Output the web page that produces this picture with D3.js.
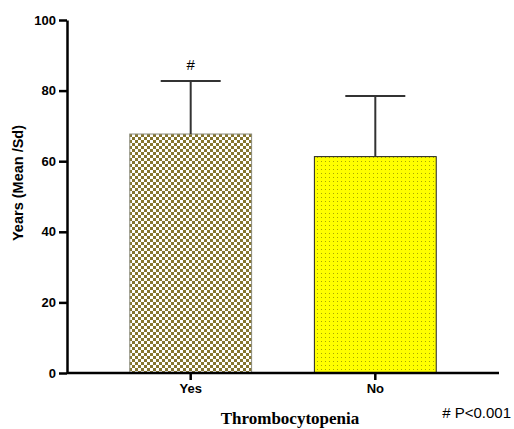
<!DOCTYPE html>
<html>
<head>
<meta charset="utf-8">
<script src="https://cdn.jsdelivr.net/npm/d3@7"></script>
<style>
  body { margin: 0; background: #fff; }
  svg { display: block; }
</style>
</head>
<body>
<svg id="chart" width="514" height="429"></svg>
<script>
var categories = ["Yes", "No"];
var means = [67.7, 61.3];
var sds = [15.0, 17.2];
var marks = ["#", ""];
var yTicks = [0, 20, 40, 60, 80, 100];

var svg = d3.select("#chart"),
    margin = {top: 20, left: 67, bottom: 56, right: 15},
    width = 514,
    height = 429;

var defs = svg.append("defs");

// checkerboard for "Yes"
var checker = defs.append("pattern")
    .attr("id", "checker")
    .attr("patternUnits", "userSpaceOnUse")
    .attr("width", 6).attr("height", 6)
    .attr("x", 129).attr("y", 134);
checker.append("rect").attr("width", 6).attr("height", 6).attr("fill", "#fff");
checker.append("rect").attr("width", 3).attr("height", 3).attr("fill", "#85752f");
checker.append("rect").attr("x", 3).attr("y", 3).attr("width", 3).attr("height", 3).attr("fill", "#85752f");

// dotted yellow for "No"
var dots = defs.append("pattern")
    .attr("id", "dots")
    .attr("patternUnits", "userSpaceOnUse")
    .attr("width", 4).attr("height", 4);
dots.append("rect").attr("width", 4).attr("height", 4).attr("fill", "#ffff00");
dots.append("rect").attr("x", 1).attr("y", 1).attr("width", 1).attr("height", 1).attr("fill", "#a8a800");

var fills = ["url(#checker)", "url(#dots)"];

var xScale = d3.scaleBand()
    .domain(categories)
    .range([margin.left, 499])
    .paddingInner(0.34)
    .paddingOuter(0.34);

var yScale = d3.scaleLinear()
    .domain([0, 100])
    .range([height - margin.bottom, margin.top]);

// bars
svg.selectAll("rect.bar")
    .data(categories)
    .enter().append("rect")
    .attr("class", "bar")
    .attr("x", d => xScale(d))
    .attr("width", xScale.bandwidth())
    .attr("y", (d, i) => yScale(means[i]))
    .attr("height", (d, i) => yScale(0) - yScale(means[i]))
    .attr("fill", (d, i) => fills[i])
    .attr("stroke", (d, i) => i == 0 ? "#8a8a7a" : "#222")
    .attr("stroke-width", 1);

// error bars (upper only)
var err = svg.selectAll("g.err")
    .data(categories)
    .enter().append("g")
    .attr("class", "err");

err.append("line")
    .attr("x1", d => xScale(d) + xScale.bandwidth() / 2)
    .attr("x2", d => xScale(d) + xScale.bandwidth() / 2)
    .attr("y1", (d, i) => yScale(means[i]))
    .attr("y2", (d, i) => yScale(means[i] + sds[i]))
    .attr("stroke", "#333")
    .attr("stroke-width", 2);

err.append("line")
    .attr("x1", d => xScale(d) + xScale.bandwidth() / 2 - 30)
    .attr("x2", d => xScale(d) + xScale.bandwidth() / 2 + 30)
    .attr("y1", (d, i) => yScale(means[i] + sds[i]))
    .attr("y2", (d, i) => yScale(means[i] + sds[i]))
    .attr("stroke", "#333")
    .attr("stroke-width", 2);

err.append("text")
    .attr("x", d => xScale(d) + xScale.bandwidth() / 2)
    .attr("y", (d, i) => yScale(means[i] + sds[i]) - 11)
    .attr("text-anchor", "middle")
    .style("font-family", "Arial, 'Liberation Sans', sans-serif")
    .style("font-size", "15px")
    .text((d, i) => marks[i]);

// axes
var yAxis = svg.append("g")
    .attr("class", "y-axis")
    .attr("transform", `translate(${margin.left},0)`)
    .call(d3.axisLeft(yScale).tickValues(yTicks).tickSize(8).tickSizeOuter(0).tickPadding(3));

var xAxis = svg.append("g")
    .attr("class", "x-axis")
    .attr("transform", `translate(0,${yScale(0)})`)
    .call(d3.axisBottom(xScale).tickSize(7).tickSizeOuter(0).tickPadding(4));

xAxis.select(".domain").attr("d", `M${margin.left},0H499`);

svg.selectAll(".domain").attr("stroke", "#000").attr("stroke-width", 2.5);
svg.selectAll(".tick line").attr("stroke", "#000").attr("stroke-width", 2.5);
svg.selectAll(".tick text")
    .style("font-family", "Arial, 'Liberation Sans', sans-serif")
    .style("font-size", "13px")
    .style("font-weight", "bold")
    .attr("fill", "#000");

// axis titles
svg.append("text")
    .attr("transform", "translate(23,183) rotate(-90)")
    .attr("text-anchor", "middle")
    .style("font-family", "Arial, 'Liberation Sans', sans-serif")
    .style("font-size", "14.5px")
    .style("font-weight", "bold")
    .text("Years (Mean /Sd)");

svg.append("text")
    .attr("x", 290)
    .attr("y", 424)
    .attr("text-anchor", "middle")
    .style("font-family", "'Times New Roman', 'Liberation Serif', serif")
    .style("font-size", "17px")
    .style("font-weight", "bold")
    .text("Thrombocytopenia");

svg.append("text")
    .attr("x", 511)
    .attr("y", 418)
    .attr("text-anchor", "end")
    .style("font-family", "Arial, 'Liberation Sans', sans-serif")
    .style("font-size", "15px")
    .text("# P<0.001");
</script>
</body>
</html>
